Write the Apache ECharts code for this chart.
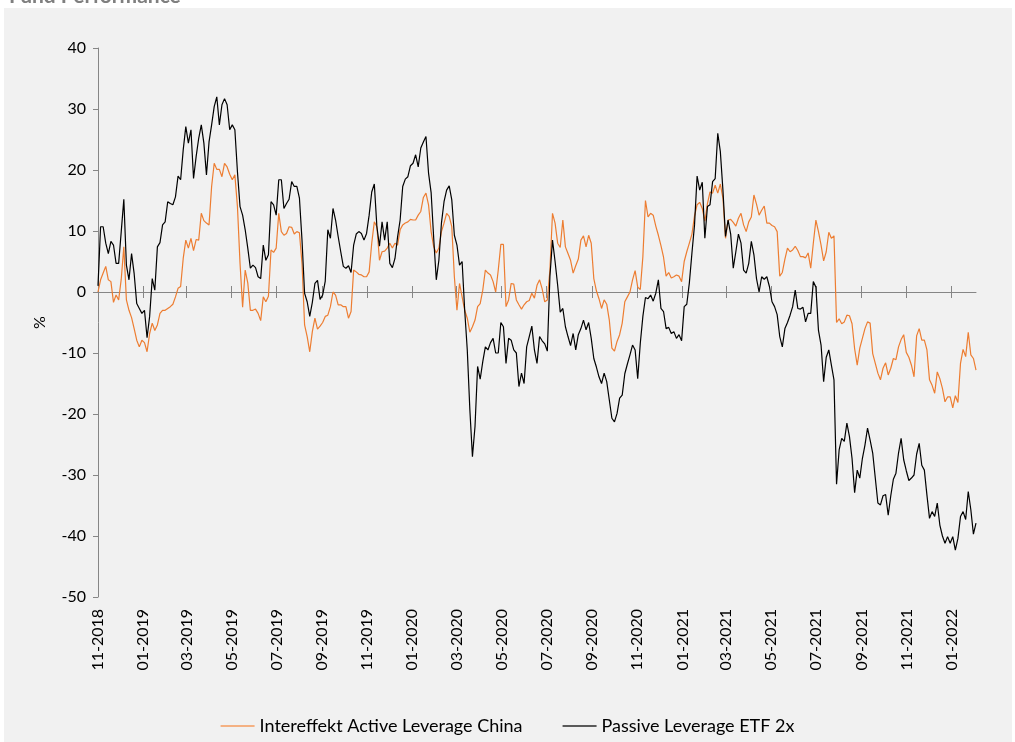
<!DOCTYPE html>
<html lang="en">
    <head>
        <meta charset="UTF-8">
        <title>Fund Performance</title>
        <script src="https://cdn.jsdelivr.net/npm/echarts@6.0.0/dist/echarts.min.js"></script>
        <style>
            html, body { margin: 0; padding: 0; background: #ffffff; }
            #chart { width: 1015px; height: 742px; }
        </style>
    </head>

    <body>
        <div id="chart"></div>

        <script>
            // readings every 3.5 days, first point 01-11-2018
            var startDate = [2018, 10, 1];
            var stepDays = 3.5;

            var activeChina = [
                0, 2, 3.1, 4.2, 2, 1.7, -1.7, -0.5, -1.3, 2.1,
                7.4, -1.3, -3, -4.2, -6, -7.9, -9, -7.9, -8.3, -9.8,
                -6.8, -5.1, -6.3, -5.4, -3.5, -3, -3, -2.7, -2.4, -2,
                -0.8, 0.6, 0.9, 5.5, 8.5, 7.2, 8.8, 6.8, 8.6, 8.5,
                12.9, 11.7, 11.3, 11, 17.3, 21.1, 20.1, 20.1, 18.9, 21.1,
                20.5, 19.3, 18.4, 19.2, 14, 4.7, -2.5, 3.6, 1.5, -3,
                -3, -2.8, -3.5, -4.7, -0.8, -1.6, -0.7, 6.9, 6.5, 7.2,
                12.9, 9.9, 9.3, 9.6, 10.7, 10.6, 9.5, 9.9, 9.7, 4.7,
                -5.4, -7.3, -9.8, -6.5, -4.3, -6.1, -5.6, -5, -4, -3.8,
                -2.4, 0, -0.5, -2.1, -2.1, -2.4, -2.4, -4.3, -3.2, 3.6,
                3.3, 2.9, 2.8, 2.5, 2.5, 3.3, 8, 11.5, 10.7, 5.2,
                6.6, 6.7, 7.2, 8, 7.2, 8, 7.7, 10.2, 11, 11.3,
                11.5, 11.9, 11.8, 11.8, 12.6, 13.2, 15.5, 16.2, 14.3, 9.9,
                7.4, 6.4, 7.2, 9.9, 11.3, 12.9, 12.4, 10.7, 2.5, -3,
                1.4, -0.8, -3, -4.3, -6.6, -5.7, -4.6, -2.4, -1.9, 0.3,
                3.6, 3.1, 2.8, 1.7, 0, 3.6, 7.8, 7.8, -2.4, -1.3,
                1.4, 1.3, -1.3, -2.1, -2.8, -2.1, -1.6, -1.4, -0.2, -1,
                1.1, 2, 0.5, -1.6, -1.3, 3.6, 12.9, 11.3, 8, 7.3,
                11.8, 7.4, 6.3, 5.2, 3.1, 4.3, 5.4, 8.5, 9.2, 7.4,
                9.3, 8, 2.2, 0.2, -1.1, -2.7, -1.3, -2, -4.6, -9.2,
                -9.7, -8.1, -7, -5.1, -1.6, -0.8, 0, 2, 3.5, 0.8,
                0.4, 5.8, 15, 12.3, 12.9, 12.6, 10.8, 9.3, 7.6, 5.7,
                2.6, 3.2, 2.3, 2.5, 2.8, 2.6, 1.7, 5, 6.6, 8,
                9.5, 12.5, 14.3, 14.7, 13.7, 11.6, 14.5, 16.4, 16.2, 17.5,
                16.2, 17.7, 15.4, 8.8, 11.8, 11.9, 11.4, 10.8, 12.1, 12.9,
                11, 9.9, 11.5, 12.3, 15.9, 14.4, 12.6, 13.4, 14.1, 11.3,
                11.3, 10.9, 10.7, 9.9, 2.6, 3.2, 5.4, 7.2, 6.6, 6.9,
                7.5, 6.8, 5.8, 5.8, 5.6, 6.4, 3.9, 8, 11.8, 9.9,
                7.7, 5.1, 6.6, 9.8, 8.8, 9.2, -5, -4.4, -5.2, -4.9,
                -3.8, -3.9, -5.2, -9.3, -12, -9.2, -7.6, -6, -4.9, -5.1,
                -10.1, -11.7, -13.3, -14.4, -12.5, -11.6, -13.6, -12.5, -10.9, -11.1,
                -9, -7.8, -7, -9.9, -10.7, -12, -13.9, -7.2, -6, -7.9,
                -7.9, -9.5, -14.4, -15.3, -16.6, -13.1, -14.2, -15.8, -18, -17.2,
                -17.2, -19, -17, -18.1, -11.7, -9.4, -10.6, -6.6, -10.3, -10.9,
                -12.8
            ];

            var passiveEtf = [
                1, 10.7, 10.7, 8, 6.3, 8.3, 7.7, 4.7, 4.7, 9.9,
                15.2, 4.4, 2, 6.3, 3, -1.9, -2.7, -3.5, -3, -7.5,
                -4, 2.2, 0.3, 7.4, 8.1, 11, 11.5, 14.8, 14.5, 14.3,
                15.6, 19, 18.4, 23.3, 27.1, 24.4, 26.6, 18.6, 22.2, 25.2,
                27.4, 24.4, 19.2, 24.6, 27.4, 30.4, 32, 27.4, 30.7, 31.7,
                30.7, 26.6, 27.4, 26.6, 19.7, 14, 12.6, 10.2, 7.2, 3.9,
                4.4, 4, 2.5, 2.2, 7.7, 5.2, 6.1, 14.8, 14.3, 12.6,
                18.4, 18.4, 13.7, 14.5, 15.2, 18.1, 17.3, 17.3, 15.4, 8.5,
                -0.2, -1.6, -4, -1.7, 1.4, 1.9, -1.2, -0.5, 1.8, 10.2,
                8.8, 13.7, 11.8, 9.1, 6.6, 4.2, 3.9, 4.3, 3.2, 7.7,
                9.5, 9.9, 9.6, 8.5, 9.6, 12.6, 16.4, 17.7, 10.7, 7.5,
                11.5, 8.5, 11.5, 4.7, 4, 5.5, 9, 11.8, 17.3, 18.5,
                18.9, 20.7, 21.1, 22.5, 20.5, 23.6, 24.6, 25.5, 19.5, 16.3,
                8.8, 2, 5.2, 11.3, 14.8, 16.7, 17.4, 15.1, 9.3, 7.7,
                4.4, 5, -3, -9.5, -19.3, -27, -22, -12.2, -14.3, -11.4,
                -9, -9.5, -8.3, -7.6, -10, -10, -5, -5.7, -11.7, -7.6,
                -7.9, -9.5, -10, -15.5, -13.3, -15, -9, -7.3, -5.6, -9.5,
                -11.7, -7.3, -8, -8.5, -9.7, 2.5, 8.5, 5, 1.1, -3.3,
                -2.7, -5.7, -7.3, -8.8, -6.8, -9.5, -7, -6, -4.6, -6.2,
                -5, -7.6, -10.9, -12.3, -13.9, -15, -13.3, -14.7, -17.7, -20.7,
                -21.3, -19.9, -17.4, -16.9, -13.4, -11.8, -10.3, -8.7, -9.5, -14.2,
                -8.4, -4, -0.9, -1.1, -0.5, -1.5, -0.2, 2, -2.7, -3.2,
                -6, -5.8, -6.8, -6.5, -7.6, -7, -8, -2.4, -2, 1.5,
                6.4, 11, 19, 16.7, 18, 8.8, 14, 14.3, 18.1, 18.6,
                26, 23, 16.7, 9.1, 11.8, 9.5, 3.9, 6.6, 9.5, 8,
                3.6, 3.1, 4.7, 8.3, 6.1, 2.2, 0, 2.5, 2.1, 2.5,
                0.9, -1.6, -2.4, -3.7, -7.3, -9, -6, -5, -3.8, -2.4,
                0.3, -2.7, -2.8, -2.5, -4.9, -3.5, -3.5, 1.7, 0.8, -6.3,
                -8.7, -14.7, -10.7, -9.5, -12, -14.4, -31.5, -25.9, -24, -24.5,
                -21.5, -23.7, -27.3, -32.9, -29.2, -30.5, -27.3, -25.1, -22.3, -24.3,
                -26.4, -30.5, -34.6, -34.9, -33.4, -33.2, -36.6, -33.4, -30.7, -29.7,
                -26.4, -24, -27.5, -29.3, -30.9, -30.5, -30, -26.6, -24.8, -28.4,
                -29.2, -33.3, -37.1, -36, -36.8, -34.6, -38.2, -40, -41.2, -40.1,
                -41.2, -40.1, -42.3, -40.4, -36.8, -36, -37.3, -32.7, -35.7, -39.7,
                -37.9
            ];

            var tickLabels = [
                '11-2018', '01-2019', '03-2019', '05-2019', '07-2019', '09-2019', '11-2019',
                '01-2020', '03-2020', '05-2020', '07-2020', '09-2020', '11-2020',
                '01-2021', '03-2021', '05-2021', '07-2021', '09-2021', '11-2021', '01-2022'
            ];

            var seriesNames = ['Intereffekt Active Leverage China', 'Passive Leverage ETF 2x'];

            function pad(n) { return n < 10 ? '0' + n : '' + n; }

            // tick label "MM-YYYY" -> timestamp of the first of that month
            var tickValues = tickLabels.map(function (s) {
                var p = s.split('-');
                return new Date(+p[1], +p[0] - 1, 1).getTime();
            });

            var t0 = new Date(startDate[0], startDate[1], startDate[2]).getTime();
            var dayMs = 86400000;

            function toPairs(values) {
                return values.map(function (v, i) {
                    return [t0 + i * stepDays * dayMs, v];
                });
            }

            var xMin = tickValues[0];
            var xMax = t0 + (passiveEtf.length - 1) * stepDays * dayMs;
            var font = 'Lato';

            function monthLabel(v) {
                var d = new Date(v);
                return pad(d.getMonth() + 1) + '-' + d.getFullYear();
            }

            var chart = echarts.init(document.getElementById('chart'), null, { renderer: 'canvas' });

            chart.setOption({
                backgroundColor: '#ffffff',
                animation: false,
                textStyle: { fontFamily: font },
                title: {
                    text: 'Fund Performance',
                    left: 4,
                    top: -19,
                    textStyle: { fontFamily: font, fontSize: 21, fontWeight: 'bold', color: '#7f7f7f' }
                },
                graphic: [{
                    type: 'rect',
                    z: -10,
                    silent: true,
                    shape: { x: 4, y: 8, width: 1008, height: 740 },
                    style: { fill: '#f1f1f1' }
                }],
                legend: {
                    top: 712,
                    left: 'center',
                    icon: 'rect',
                    itemWidth: 34,
                    itemHeight: 2,
                    itemGap: 40,
                    textStyle: { fontFamily: font, fontSize: 18, color: '#000' },
                    data: [
                        { name: seriesNames[0], itemStyle: { color: '#f4b183' } },
                        { name: seriesNames[1], itemStyle: { color: '#5a5a5a' } }
                    ]
                },
                grid: { left: 98, right: 39, top: 48, bottom: 145, containLabel: false },
                xAxis: [
                    {
                        // labels at the bottom
                        type: 'value', min: xMin, max: xMax, position: 'bottom',
                        axisLine: { show: false, onZero: false },
                        axisTick: { show: false },
                        splitLine: { show: false },
                        axisLabel: {
                            customValues: tickValues,
                            rotate: 90,
                            margin: 12,
                            fontSize: 16,
                            color: '#000',
                            formatter: monthLabel
                        }
                    },
                    {
                        // zero line, ticks below
                        type: 'value', min: xMin, max: xMax, position: 'bottom',
                        axisLine: { show: true, onZero: true, onZeroAxisIndex: 0, lineStyle: { color: '#868686', width: 1 } },
                        axisTick: { show: true, customValues: tickValues, length: 6, lineStyle: { color: '#868686' } },
                        axisLabel: { show: false },
                        splitLine: { show: false }
                    },
                    {
                        // ticks above the zero line
                        type: 'value', min: xMin, max: xMax, position: 'bottom',
                        axisLine: { show: false, onZero: true, onZeroAxisIndex: 0 },
                        axisTick: { show: true, inside: true, customValues: tickValues, length: 6, lineStyle: { color: '#868686' } },
                        axisLabel: { show: false },
                        splitLine: { show: false }
                    }
                ],
                yAxis: {
                    type: 'value',
                    min: -50,
                    max: 40,
                    interval: 10,
                    name: '%',
                    nameLocation: 'middle',
                    nameRotate: 90,
                    nameGap: 50,
                    nameTextStyle: { fontFamily: font, fontSize: 16, color: '#000' },
                    axisLine: { show: true, lineStyle: { color: '#868686' } },
                    axisTick: { show: true, length: 5, lineStyle: { color: '#868686' } },
                    axisLabel: { fontSize: 16, color: '#000', margin: 12 },
                    splitLine: { show: false }
                },
                series: [
                    {
                        name: seriesNames[0],
                        type: 'line',
                        xAxisIndex: 0,
                        showSymbol: false,
                        symbol: 'none',
                        lineStyle: { color: '#ed7d31', width: 1.2 },
                        itemStyle: { color: '#ed7d31' },
                        data: toPairs(activeChina)
                    },
                    {
                        name: seriesNames[1],
                        type: 'line',
                        xAxisIndex: 0,
                        showSymbol: false,
                        symbol: 'none',
                        lineStyle: { color: '#000000', width: 1.2 },
                        itemStyle: { color: '#000000' },
                        data: toPairs(passiveEtf)
                    }
                ]
            });
        </script>
    </body>

</html>
